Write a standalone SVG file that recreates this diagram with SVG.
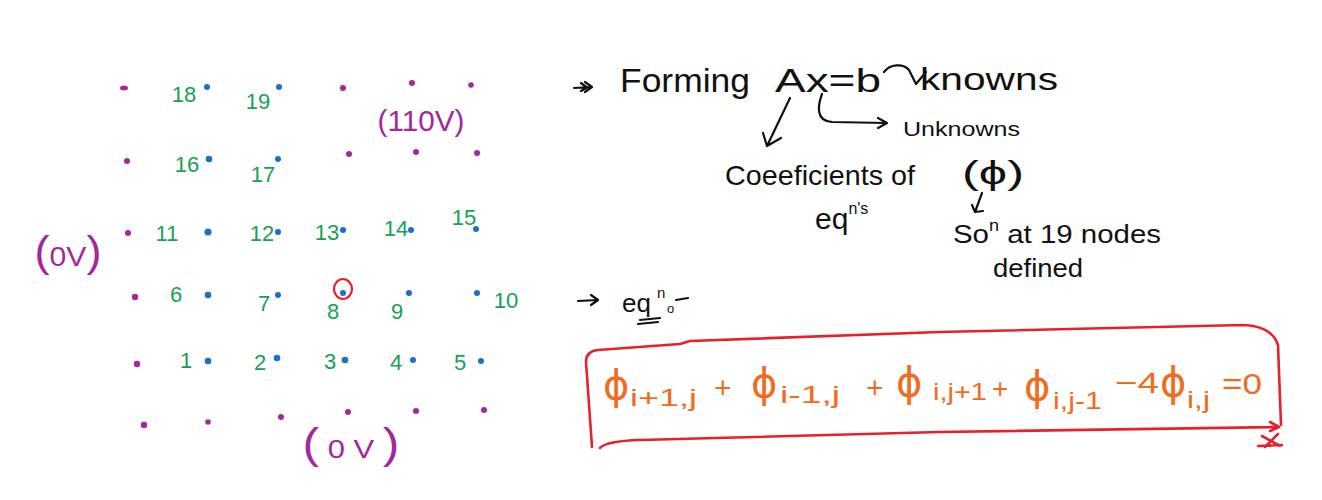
<svg xmlns="http://www.w3.org/2000/svg" width="1322" height="500" viewBox="0 0 1322 500">
<style>
text{font-family:"Liberation Sans","DejaVu Sans",sans-serif}
.mg{fill:#a3289b}
.bl{fill:#1b6fc6}
.gn{fill:#16a058;font-size:22px;text-anchor:middle}
.pv{fill:#a3289b;text-anchor:middle}
.k{fill:#111}
.or{fill:#f26b1d}
.phi{font-family:"DejaVu Sans",sans-serif;font-size:40px}
.sub{font-size:24px}
.ink{fill:none;stroke:#111;stroke-width:2.2;stroke-linecap:round;stroke-linejoin:round}
.red{fill:none;stroke:#e8202a;stroke-width:2.6;stroke-linecap:round;stroke-linejoin:round}
</style>
<rect width="1322" height="500" fill="#fff"/>

<g id="boundary-dots">
<ellipse class="mg" cx="124" cy="88" rx="4" ry="2.5"/>
<circle class="mg" cx="343" cy="88" r="3"/>
<circle class="mg" cx="412" cy="83" r="3"/>
<circle class="mg" cx="471" cy="85" r="2.8"/>
<circle class="mg" cx="127" cy="161" r="3"/>
<circle class="mg" cx="349" cy="154" r="3"/>
<circle class="mg" cx="416" cy="152" r="3"/>
<circle class="mg" cx="477" cy="153" r="3"/>
<circle class="mg" cx="128" cy="233" r="3"/>
<circle class="mg" cx="135" cy="297" r="3.2"/>
<circle class="mg" cx="137" cy="364" r="3.2"/>
<circle class="mg" cx="144" cy="425" r="3.2"/>
<circle class="mg" cx="208" cy="422" r="2.8"/>
<circle class="mg" cx="281" cy="417" r="3"/>
<circle class="mg" cx="348" cy="412" r="3"/>
<circle class="mg" cx="416" cy="411" r="3"/>
<circle class="mg" cx="484" cy="410" r="3"/>
</g>

<g id="unknown-dots">
<circle class="bl" cx="207" cy="87" r="3"/>
<circle class="bl" cx="279" cy="87" r="3"/>
<circle class="bl" cx="209" cy="159" r="3.3"/>
<circle class="bl" cx="278" cy="159" r="3"/>
<circle class="bl" cx="208" cy="232" r="3.6"/>
<circle class="bl" cx="278" cy="232" r="3"/>
<circle class="bl" cx="343" cy="230" r="3"/>
<circle class="bl" cx="411" cy="230" r="3"/>
<circle class="bl" cx="476" cy="229" r="3"/>
<circle class="bl" cx="208" cy="295" r="3.3"/>
<circle class="bl" cx="278" cy="295" r="3"/>
<circle class="bl" cx="343" cy="293" r="3"/>
<circle class="bl" cx="409" cy="293" r="3"/>
<circle class="bl" cx="477" cy="293" r="3"/>
<circle class="bl" cx="208" cy="361" r="3.3"/>
<circle class="bl" cx="277" cy="358" r="3.3"/>
<circle class="bl" cx="345" cy="360" r="3.3"/>
<circle class="bl" cx="413" cy="360" r="3"/>
<circle class="bl" cx="481" cy="361" r="3"/>
</g>

<g id="node-labels">
<text class="gn" x="184" y="102">18</text>
<text class="gn" x="258" y="109">19</text>
<text class="gn" x="187" y="172">16</text>
<text class="gn" x="263" y="182">17</text>
<text class="gn" x="167" y="241">11</text>
<text class="gn" x="262" y="241">12</text>
<text class="gn" x="327" y="240">13</text>
<text class="gn" x="396" y="236">14</text>
<text class="gn" x="464" y="225">15</text>
<text class="gn" x="176" y="302">6</text>
<text class="gn" x="264" y="311">7</text>
<text class="gn" x="333" y="319">8</text>
<text class="gn" x="397" y="319">9</text>
<text class="gn" x="506" y="308">10</text>
<text class="gn" x="186" y="368">1</text>
<text class="gn" x="260" y="370">2</text>
<text class="gn" x="330" y="369">3</text>
<text class="gn" x="396" y="370">4</text>
<text class="gn" x="460" y="370">5</text>
</g>

<g id="node8-highlight">
<ellipse cx="343" cy="289" rx="9" ry="10" fill="none" stroke="#e8202a" stroke-width="2.2"/>
</g>

<g id="boundary-labels">
<text class="pv" x="421" y="131" font-size="30" textLength="87" lengthAdjust="spacingAndGlyphs">(110V)</text>
<text class="pv" x="68" y="266" textLength="67" lengthAdjust="spacingAndGlyphs"><tspan font-size="42">(</tspan><tspan font-size="28">0V</tspan><tspan font-size="42">)</tspan></text>
<text class="pv" x="351" y="458" textLength="97" lengthAdjust="spacingAndGlyphs"><tspan font-size="42">(</tspan><tspan font-size="26"> 0 V </tspan><tspan font-size="42">)</tspan></text>
</g>

<g id="notes">
<text class="k" x="620" y="92" font-size="34" textLength="130" lengthAdjust="spacingAndGlyphs">Forming</text>
<text class="k" x="775" y="92" font-size="34" textLength="106" lengthAdjust="spacingAndGlyphs">Ax=b</text>
<text class="k" x="920" y="90" font-size="32" textLength="138" lengthAdjust="spacingAndGlyphs">knowns</text>
<text class="k" x="903" y="136" font-size="20" textLength="117" lengthAdjust="spacingAndGlyphs">Unknowns</text>
<text class="k" x="725" y="185" font-size="28" textLength="190" lengthAdjust="spacingAndGlyphs">Coeeficients of</text>
<text class="k" x="815" y="229" font-size="30">eq<tspan font-size="16" dy="-15">n's</tspan></text>
<text class="k" x="962" y="184" font-size="34" textLength="62" lengthAdjust="spacingAndGlyphs">(ϕ)</text>
<text class="k" x="953" y="243" font-size="26" textLength="208" lengthAdjust="spacingAndGlyphs">So<tspan font-size="16" dy="-12">n</tspan><tspan dy="12"> at 19 nodes</tspan></text>
<text class="k" x="993" y="277" font-size="26" textLength="90" lengthAdjust="spacingAndGlyphs">defined</text>
<text class="k" x="622" y="312" font-size="26">eq</text>
<text class="k" x="657" y="298" font-size="15">n</text>
<text class="k" x="667" y="313" font-size="13">o</text>
</g>

<g id="connectors">
<path class="ink" d="M574,88 L592,87 M585,82 L592,87 L585,92 M581,83 L587,87.5 L581,91"/>
<path class="ink" d="M790,98 L767,146 M763,133 L767,146 L781,138"/>
<path class="ink" d="M822,94 C818,105 815,121 832,122 L886,123 M878,118 L887,123 L878,128"/>
<path class="ink" d="M884,72 C890,64 903,63 909,70 L916,84 L926,72"/>
<path class="ink" d="M982,193 L975,212 M972,205 L975,212 L983,211"/>
<path class="ink" stroke-width="3" d="M578,301 L598,300 M591,295 L598,300 L591,305"/>
<path class="ink" d="M676,300 L688,298 M640,320 L660,318 M638,324 L658,322"/>
</g>

<g id="equation-box">
<path class="red" d="M592,447 L586,362 Q586,351 598,350 L680,344 L690,341 L940,332 L1243,325 Q1272,326 1278,345 L1281,425"/>
<path class="red" d="M600,448 Q606,441 640,440 L940,432 L1278,427 M1270,422 L1279,427 L1270,431"/>
<path class="red" d="M1262,436 L1280,446 M1278,434 L1265,447 M1258,446 L1282,445"/>
<g class="or">
<text class="phi" x="603" y="399">ϕ</text>
<text class="sub" x="630" y="406" textLength="67" lengthAdjust="spacingAndGlyphs">i+1,j</text>
<text x="714" y="398" font-size="30">+</text>
<text class="phi" x="751" y="397">ϕ</text>
<text class="sub" x="780" y="403" textLength="60" lengthAdjust="spacingAndGlyphs">i-1,j</text>
<text x="866" y="398" font-size="30">+</text>
<text class="phi" x="896" y="396">ϕ</text>
<text class="sub" x="933" y="400" textLength="54" lengthAdjust="spacingAndGlyphs">i,j+1</text>
<text x="992" y="398" font-size="28">+</text>
<text class="phi" x="1024" y="400">ϕ</text>
<text class="sub" x="1053" y="409" textLength="49" lengthAdjust="spacingAndGlyphs">i,j-1</text>
<text x="1115" y="393" font-size="30" textLength="44" lengthAdjust="spacingAndGlyphs">−4</text>
<text class="phi" x="1160" y="396">ϕ</text>
<text class="sub" x="1187" y="408" textLength="23" lengthAdjust="spacingAndGlyphs">i,j</text>
<text x="1222" y="394" font-size="30" textLength="40" lengthAdjust="spacingAndGlyphs">=0</text>
</g>
</g>
</svg>
